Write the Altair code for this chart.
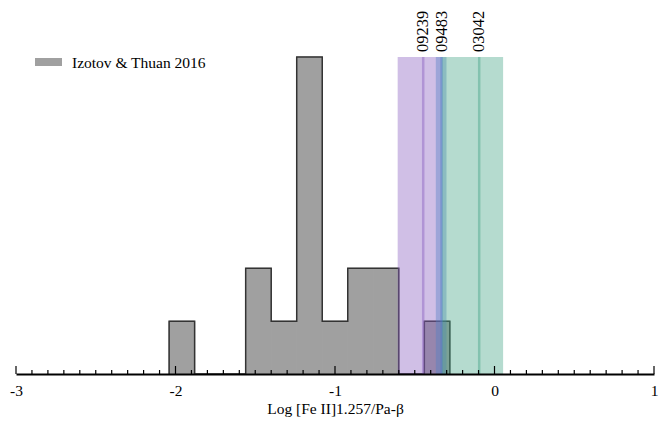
import altair as alt
import pandas as pd
import numpy as np

# ---- data ----
bin_edges = [-2.04, -1.88, -1.72, -1.56, -1.40, -1.24, -1.08, -0.92, -0.76, -0.60, -0.44, -0.28]
bin_counts = [1, 0, 0, 2, 1, 6, 1, 2, 2, 0, 1]

obj_names = ["09239", "09483", "03042"]
obj_centers = [-0.447, -0.332, -0.096]
obj_lows = [-0.607, -0.368, -0.330]
obj_highs = [-0.330, -0.301, 0.054]
obj_colors = ["#8a5fc0", "#4f7fc4", "#46a587"]

major_ticks = [-3, -2, -1, 0, 1]
minor_ticks = [round(v, 1) for v in np.arange(-3, 1.0001, 0.1)]

legend_label = "Izotov & Thuan 2016"
x_title = "Log [Fe II]1.257/Pa-β"

W, H = 638, 317
FONT = "Liberation Serif"

xs = alt.Scale(domain=[-3, 1], nice=False, zero=False)
ys = alt.Scale(domain=[0, 6], nice=False, zero=True)

bars = pd.DataFrame({"lo": bin_edges[:-1], "hi": bin_edges[1:], "n": bin_counts})
bars = bars[bars.n > 0]

# step outline of the histogram
ox = [bin_edges[0]] + bin_edges[:-1] + [bin_edges[-1]]
oy = [0] + bin_counts + [0]
outline = pd.DataFrame({"x": ox, "y": oy, "i": list(range(len(ox)))})

objs = pd.DataFrame({"name": obj_names, "c": obj_centers, "lo": obj_lows,
                     "hi": obj_highs, "col": obj_colors})

minor_df = pd.DataFrame({"v": [v for v in minor_ticks if v not in major_ticks]})
major_df = pd.DataFrame({"v": major_ticks})

base_x = alt.X("lo:Q", scale=xs,
               axis=alt.Axis(values=major_ticks, labelExpr="'' + datum.value",
                             title=x_title, ticks=False, grid=False, labelFlush=False,
                             domainColor="black", domainWidth=2,
                             labelFont=FONT, labelFontSize=15.5, labelColor="black",
                             labelPadding=9, titleFont=FONT, titleFontSize=15.5,
                             titleFontWeight="normal", titleColor="black",
                             titlePadding=3, zindex=1))

fill = alt.Chart(bars).mark_rect(color="#a0a0a0", stroke="#a0a0a0", strokeWidth=1).encode(
    x=base_x, x2="hi:Q",
    y=alt.Y("n:Q", scale=ys, axis=None), y2=alt.datum(0))

outl = alt.Chart(outline).mark_line(interpolate="step-after", color="#333333",
                                    strokeWidth=1.5).encode(
    x=alt.X("x:Q", scale=xs), y=alt.Y("y:Q", scale=ys), order="i:Q")

bands = alt.Chart(objs).mark_rect(opacity=0.4).encode(
    x=alt.X("lo:Q", scale=xs), x2="hi:Q",
    y=alt.value(0), y2=alt.value(H),
    color=alt.Color("col:N", scale=None))

lines = alt.Chart(objs).mark_rule(opacity=0.45, strokeWidth=2.5).encode(
    x=alt.X("c:Q", scale=xs), y=alt.value(0), y2=alt.value(H),
    color=alt.Color("col:N", scale=None))

labels = alt.Chart(objs).mark_text(angle=270, align="left", baseline="middle",
                                   font=FONT, fontSize=16.5, color="black").encode(
    x=alt.X("c:Q", scale=xs), y=alt.value(-5), text="name:N")

minor = alt.Chart(minor_df).mark_rule(color="black", strokeWidth=1.2).encode(
    x=alt.X("v:Q", scale=xs), y=alt.value(H), y2=alt.value(H - 4))
major = alt.Chart(major_df).mark_rule(color="black", strokeWidth=1.2).encode(
    x=alt.X("v:Q", scale=xs), y=alt.value(H), y2=alt.value(H - 8))

leg_df = pd.DataFrame({"t": [legend_label]})
leg_rect = alt.Chart(leg_df).mark_rect(color="#a0a0a0").encode(
    x=alt.value(19), x2=alt.value(46), y=alt.value(1), y2=alt.value(9))
leg_text = alt.Chart(leg_df).mark_text(
    align="left", baseline="middle", font=FONT, fontSize=15.5, color="black").encode(
    x=alt.value(56), y=alt.value(5.5), text="t:N")

chart = alt.layer(fill, outl, bands, lines, labels, minor, major, leg_rect, leg_text).properties(
    width=W, height=H, background="white",
    autosize=alt.AutoSizeParams(type="none"),
    padding={"left": 16, "top": 57, "right": 17, "bottom": 48},
).configure_view(stroke=None)

chart.save("out.html", embed_options={"renderer": "svg", "actions": False})
